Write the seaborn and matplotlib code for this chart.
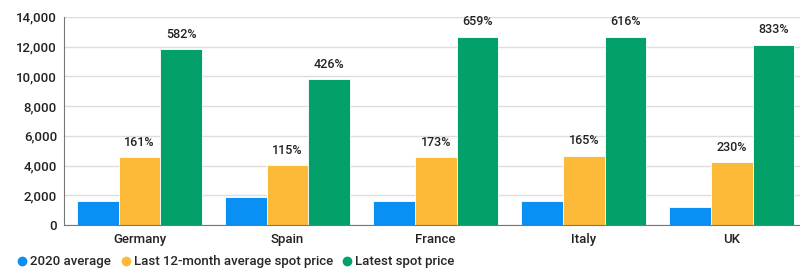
import pandas as pd
import matplotlib.pyplot as plt
import seaborn as sns
from matplotlib.lines import Line2D

countries = ['Germany', 'Spain', 'France', 'Italy', 'UK']
series = ['2020 average', 'Last 12-month average spot price', 'Latest spot price']
avg_2020 = [1650, 1860, 1640, 1640, 1240]
avg_12m = [4560, 4020, 4560, 4670, 4220]
latest = [11830, 9830, 12680, 12680, 12140]
pct_12m = ['161%', '115%', '173%', '165%', '230%']
pct_latest = ['582%', '426%', '659%', '616%', '833%']
colors = ['#0A8FF5', '#FDB938', '#03A06A']

df = pd.DataFrame({
    'Country': countries * 3,
    'Series': [s for s in series for _ in countries],
    'Value': avg_2020 + avg_12m + latest,
})

sns.set_style('white')
plt.rcParams['font.family'] = ['Roboto', 'DejaVu Sans']
plt.rcParams['font.weight'] = 'medium'

fig = plt.figure(figsize=(8, 2.68), dpi=100)
ax = fig.add_axes([0.08, 0.16, 0.92, 0.777])

sns.barplot(data=df, x='Country', y='Value', hue='Series', hue_order=series,
            palette=colors, saturation=1, width=0.845, edgecolor='white',
            linewidth=0.6, legend=False, ax=ax)

# percentage labels above orange and green bars
for cont, labels in zip(ax.containers[1:], [pct_12m, pct_latest]):
    ax.bar_label(cont, labels=labels, padding=6, fontsize=9, color='#222222')

ax.set_ylim(0, 14000)
ax.set_xlim(-0.51, 4.46)
ax.set_yticks(range(0, 14001, 2000))
ax.set_yticklabels([f'{v:,}' for v in range(0, 14001, 2000)])
ax.yaxis.grid(True, color='#DDDDDD', linewidth=1)
ax.set_axisbelow(True)
ax.set_xlabel('')
ax.set_ylabel('')
ax.tick_params(axis='both', labelsize=9.5, colors='#222222', length=0)
ax.tick_params(axis='x', pad=6)
ax.tick_params(axis='y', pad=5)
for side in ['top', 'right']:
    ax.spines[side].set_visible(False)
ax.spines['left'].set_color('#777777')
ax.spines['bottom'].set_color('#777777')

handles = [Line2D([0], [0], marker='o', linestyle='', markersize=6,
                  markerfacecolor=c, markeredgecolor=c) for c in colors]
fig.legend(handles, series, loc='lower left', bbox_to_anchor=(0.005, -0.045),
           ncol=3, frameon=False, fontsize=9.5, handletextpad=0.1,
           columnspacing=0.6, handlelength=1.0)

fig.savefig('out.png', dpi=100)
